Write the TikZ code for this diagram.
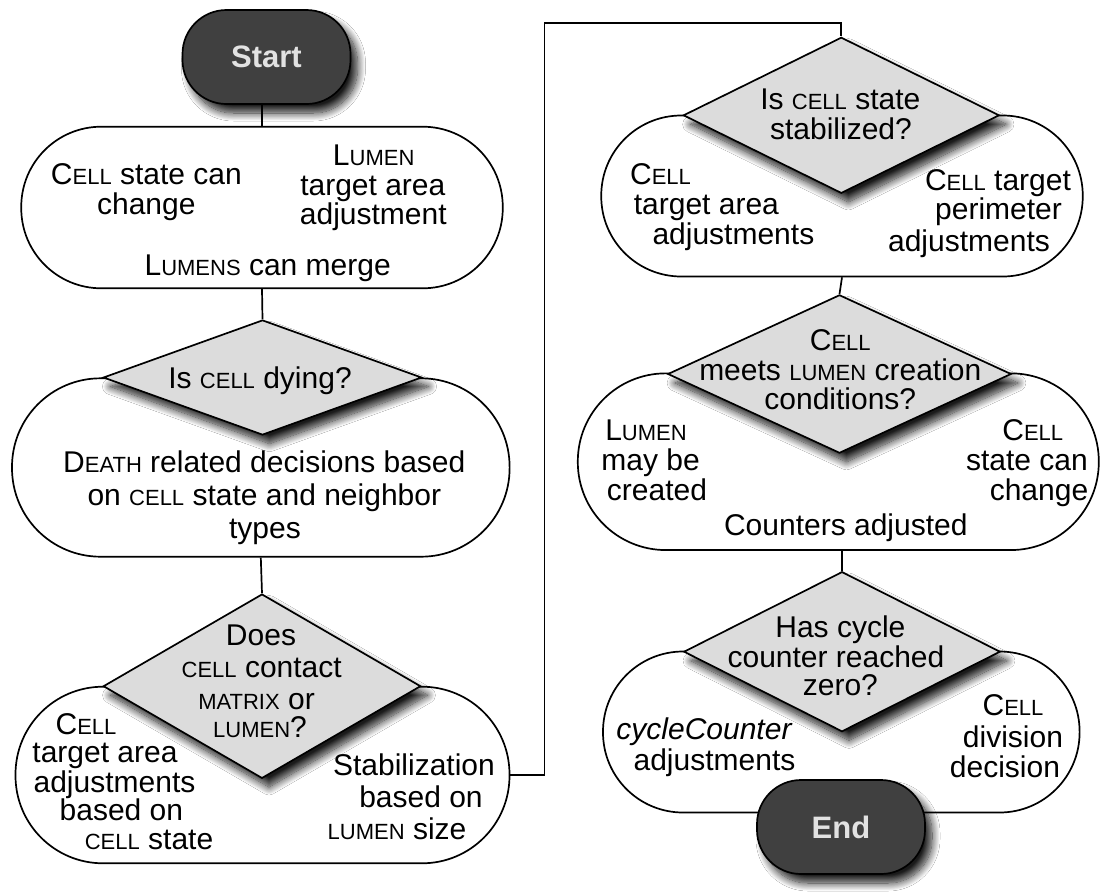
\documentclass[tikz,border=0pt]{standalone}
\usepackage{fontspec}
\setmainfont{Liberation Sans}
\usetikzlibrary{shapes.geometric,shadows.blur}
\definecolor{termfill}{HTML}{404040}
\definecolor{decfill}{HTML}{DCDCDC}
\definecolor{termtext}{HTML}{E2E2E2}
\newcommand\smcx[1]{{\fontsize{22}{22}\selectfont #1}}
\begin{document}
\begin{tikzpicture}[x=1pt,y=-1pt,
  shadowed/.style={blur shadow={shadow xshift=7pt, shadow yshift=-9pt, shadow blur radius=8pt, shadow blur steps=14, shadow opacity=90}},
  pill/.style={draw=black, line width=1.7pt, fill=white, rectangle, inner sep=0pt},
  term/.style={draw=black, line width=1.7pt, fill=termfill, rectangle, rounded corners=44pt, minimum width=168pt, minimum height=94pt, inner sep=0pt, font=\fontsize{31}{31}\selectfont\bfseries, text=termtext, shadowed},
  dec/.style={draw=black, line width=1.7pt, fill=decfill, diamond, inner sep=0pt, shadowed},
  txt/.style={font=\fontsize{30}{32}\selectfont, inner sep=0pt, text height=21.5pt, text depth=0pt},
  conn/.style={line width=1.7pt, draw=black}
]
\useasboundingbox (0,0) rectangle (1104,892);
\fill[white] (0,0) rectangle (1104,892);

% ---------- left column ----------
\node[pill, minimum width=481.5pt, minimum height=161.6pt, rounded corners=80pt] (p1) at (262,207.5) {};
\node[pill, minimum width=497.6pt, minimum height=178.4pt, rounded corners=88.5pt] (p2) at (260.8,467.5) {};
\node[pill, minimum width=494pt, minimum height=176.6pt, rounded corners=87.5pt] (p3) at (262.5,775) {};

\node[term] (start) at (266.5,57) {Start};
\node[dec, minimum width=318.5pt, minimum height=115pt] (d1) at (262.5,377.5) {};
\node[dec, minimum width=317.5pt, minimum height=184.3pt] (d2) at (262,686.2) {};

% ---------- right column ----------
\node[pill, minimum width=481.5pt, minimum height=161pt, rounded corners=80pt] (p4) at (842,196) {};
\node[pill, minimum width=521pt, minimum height=176.7pt, rounded corners=88pt] (p5) at (838.3,461.7) {};
\node[pill, minimum width=476.6pt, minimum height=161pt, rounded corners=80pt] (p6) at (841.3,732) {};

\node[dec, minimum width=316pt, minimum height=156pt] (d3) at (841.3,115.3) {};
\node[dec, minimum width=343.5pt, minimum height=158.3pt] (d4) at (839.5,374) {};
\node[dec, minimum width=316.5pt, minimum height=160pt] (d5) at (842,651.7) {};
\node[term] (end) at (841,827) {End};

% ---------- connectors ----------
\coordinate (bendA) at (544.5,23.3);
\draw[conn] (p1.north |- start.south) -- (p1.north);
\draw[conn] (p1.south) -- (d1.north);
\draw[conn] (p2.south) -- (d2.north);
\draw[conn] (p3.east) -| (bendA) -| (d3.north);
\draw[conn] (p4.south) -- (d4.north);
\draw[conn] (p5.south -| d5.north) -- (d5.north);

% ---------- texts: pill 1 ----------
\node[txt] (t1a) at (146.4,173.3) {C\smcx{ELL} state can};
\node[txt] (t1b) at (146.3,203.3) {change};
\node[txt] (t1c) at (373.7,155) {L\smcx{UMEN}};
\node[txt] (t1d) at (372.8,185) {target area};
\node[txt] (t1e) at (373.3,213.3) {adjustment};
\node[txt] (t1f) at (267.7,265) {L\smcx{UMENS} can merge};
% diamond 1
\node[txt] (td1) at (260,378) {Is \smcx{CELL} dying?};
% pill 2
\node[txt] (t2a) at (264.3,461.7) {D\smcx{EATH} related decisions based};
\node[txt] (t2b) at (264.3,495) {on \smcx{CELL} state and neighbor};
\node[txt] (t2c) at (265,527.3) {types};
% diamond 2
\node[txt] (td2a) at (261,635) {Does};
\node[txt] (td2b) at (261.7,666.7) {\smcx{CELL} contact};
\node[txt] (td2c) at (256.5,698.3) {\smcx{MATRIX} or};
\node[txt] (td2d) at (260,726.7) {\smcx{LUMEN}?};
% pill 3
\node[txt] (t3a) at (86,723.3) {C\smcx{ELL}};
\node[txt] (t3b) at (105,751.7) {target area};
\node[txt] (t3c) at (114.5,781.7) {adjustments};
\node[txt] (t3d) at (121.4,810) {based on};
\node[txt] (t3e) at (149,838.3) {\smcx{CELL} state};
\node[txt] (t3f) at (414,765) {Stabilization};
\node[txt] (t3g) at (421,796.7) {based on};
\node[txt] (t3h) at (397,828.3) {\smcx{LUMEN} size};
% diamond 3
\node[txt] (td3a) at (840.3,98.3) {Is \smcx{CELL} state};
\node[txt] (td3b) at (841,128.3) {stabilized?};
% pill 4
\node[txt] (t4a) at (660.5,173.3) {C\smcx{ELL}};
\node[txt] (t4b) at (706.4,203.3) {target area};
\node[txt] (t4c) at (733.4,233.3) {adjustments};
\node[txt] (t4d) at (998,180) {C\smcx{ELL} target};
\node[txt] (t4e) at (998.5,209) {perimeter};
\node[txt] (t4f) at (969,240.5) {adjustments};
% diamond 4
\node[txt] (td4a) at (840.3,340) {C\smcx{ELL}};
\node[txt] (td4b) at (840.3,370) {meets \smcx{LUMEN} creation};
\node[txt] (td4c) at (840.3,398.3) {conditions?};
% pill 5
\node[txt] (t5a) at (646,430) {L\smcx{UMEN}};
\node[txt] (t5b) at (650.6,460) {may be};
\node[txt] (t5c) at (657,490) {created};
\node[txt] (t5d) at (1032.8,430) {C\smcx{ELL}};
\node[txt] (t5e) at (1027,460) {state can};
\node[txt] (t5f) at (1039,490) {change};
\node[txt] (t5g) at (845.8,525) {Counters adjusted};
% diamond 5
\node[txt] (td5a) at (840.4,626.7) {Has cycle};
\node[txt] (td5b) at (836,656.7) {counter reached};
\node[txt] (td5c) at (840.4,685) {zero?};
% pill 6
\node[txt] (t6a) at (704.5,728.3) {\textit{cycleCounter}};
\node[txt] (t6b) at (714.5,760) {adjustments};
\node[txt] (t6c) at (1013,705) {C\smcx{ELL}};
\node[txt] (t6d) at (1013,736.7) {division};
\node[txt] (t6e) at (1005,766.7) {decision};
\end{tikzpicture}
\end{document}
